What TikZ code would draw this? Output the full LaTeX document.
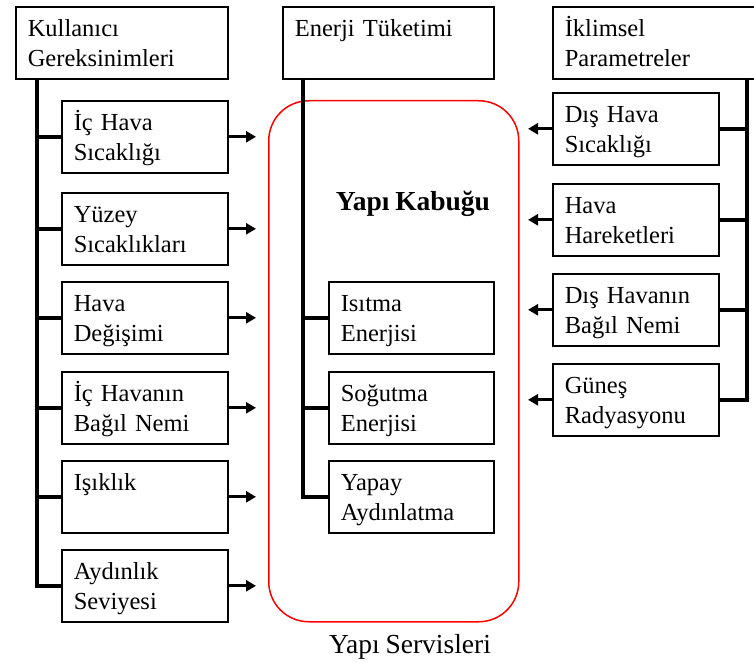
\documentclass[tikz,border=0pt]{standalone}
\usepackage{fontspec}
\setmainfont{Liberation Serif}[WordSpace=0.85]
\usetikzlibrary{arrows.meta}

\tikzset{
  txt/.style={font=\fontsize{24.5pt}{30pt}\selectfont},
  bigtxt/.style={font=\fontsize{27.5pt}{32pt}\selectfont},
  bigbold/.style={font=\fontsize{27.5pt}{32pt}\selectfont\bfseries},
  box/.style={txt, draw, line width=1.6pt, anchor=north west, align=left,
    inner xsep=12pt, inner ysep=6pt, text height=24pt, text depth=36pt},
  sbox/.style={box, text width=142pt},
  trunk/.style={line width=4pt},
  arr/.style={line width=3pt, -{Triangle[length=10pt,width=11pt]}},
  shell/.style={draw=red, line width=1.5pt, rounded corners=40pt, anchor=north west,
    minimum width=250pt, minimum height=521pt, inner sep=0pt}
}

\begin{document}
\begin{tikzpicture}[x=1pt, y=-1pt]
\useasboundingbox (0,0) rectangle (754,666);

% building envelope frame
\node[shell] (env) at (268,100) {};
\node[bigbold] (kab) at (413,204) {Yapı Kabuğu};
\node[bigtxt] (svc) at (410,647) {Yapı Servisleri};

% user requirements
\node[box, text width=188pt] (kul) at (15,6) {Kullanıcı\\Gereksinimleri};
\node[sbox] (l1) at (61,100) {İç Hava\\Sıcaklığı};
\node[sbox] (l2) at (61,192) {Yüzey\\Sıcaklıkları};
\node[sbox] (l3) at (61,281) {Hava\\Değişimi};
\node[sbox] (l4) at (61,371) {İç Havanın\\Bağıl Nemi};
\node[sbox] (l5) at (61,460) {Işıklık};
\node[sbox] (l6) at (61,549) {Aydınlık\\Seviyesi};

% energy consumption
\node[box, text width=187pt] (ene) at (282,6) {Enerji Tüketimi};
\node[sbox, text width=141pt] (m1) at (328,281) {Isıtma\\Enerjisi};
\node[sbox, text width=141pt] (m2) at (328,371) {Soğutma\\Enerjisi};
\node[sbox, text width=141pt] (m3) at (328,460) {Yapay\\Aydınlatma};

% climatic parameters
\node[box, text width=180pt] (ikl) at (552,6) {İklimsel\\Parametreler};
\node[sbox] (r1) at (552,92) {Dış Hava\\Sıcaklığı};
\node[sbox] (r2) at (552,183) {Hava\\Hareketleri};
\node[sbox] (r3) at (552,273) {Dış Havanın\\Bağıl Nemi};
\node[sbox] (r4) at (552,363) {Güneş\\Radyasyonu};

% trunk lines
\coordinate (lt) at (37,78);
\coordinate (mt) at (303,78);
\coordinate (rt) at (747,78);
\coordinate (la) at (256,0);
\coordinate (ra) at (528,0);

\draw[trunk] (lt) |- (l6.west);
\foreach \n in {l1,l2,l3,l4,l5}
  \draw[trunk] (\n.west) -- (\n.west -| lt);

\draw[trunk] (mt) |- (m3.west);
\foreach \n in {m1,m2}
  \draw[trunk] (\n.west) -- (\n.west -| mt);

\draw[trunk] (rt) |- (r4.east);
\foreach \n in {r1,r2,r3}
  \draw[trunk] (\n.east) -- (\n.east -| rt);

% arrows towards the envelope
\foreach \n in {l1,l2,l3,l4,l5,l6}
  \draw[arr] (\n.east) -- (\n.east -| la);
\foreach \n in {r1,r2,r3,r4}
  \draw[arr] (\n.west) -- (\n.west -| ra);
\end{tikzpicture}
\end{document}
